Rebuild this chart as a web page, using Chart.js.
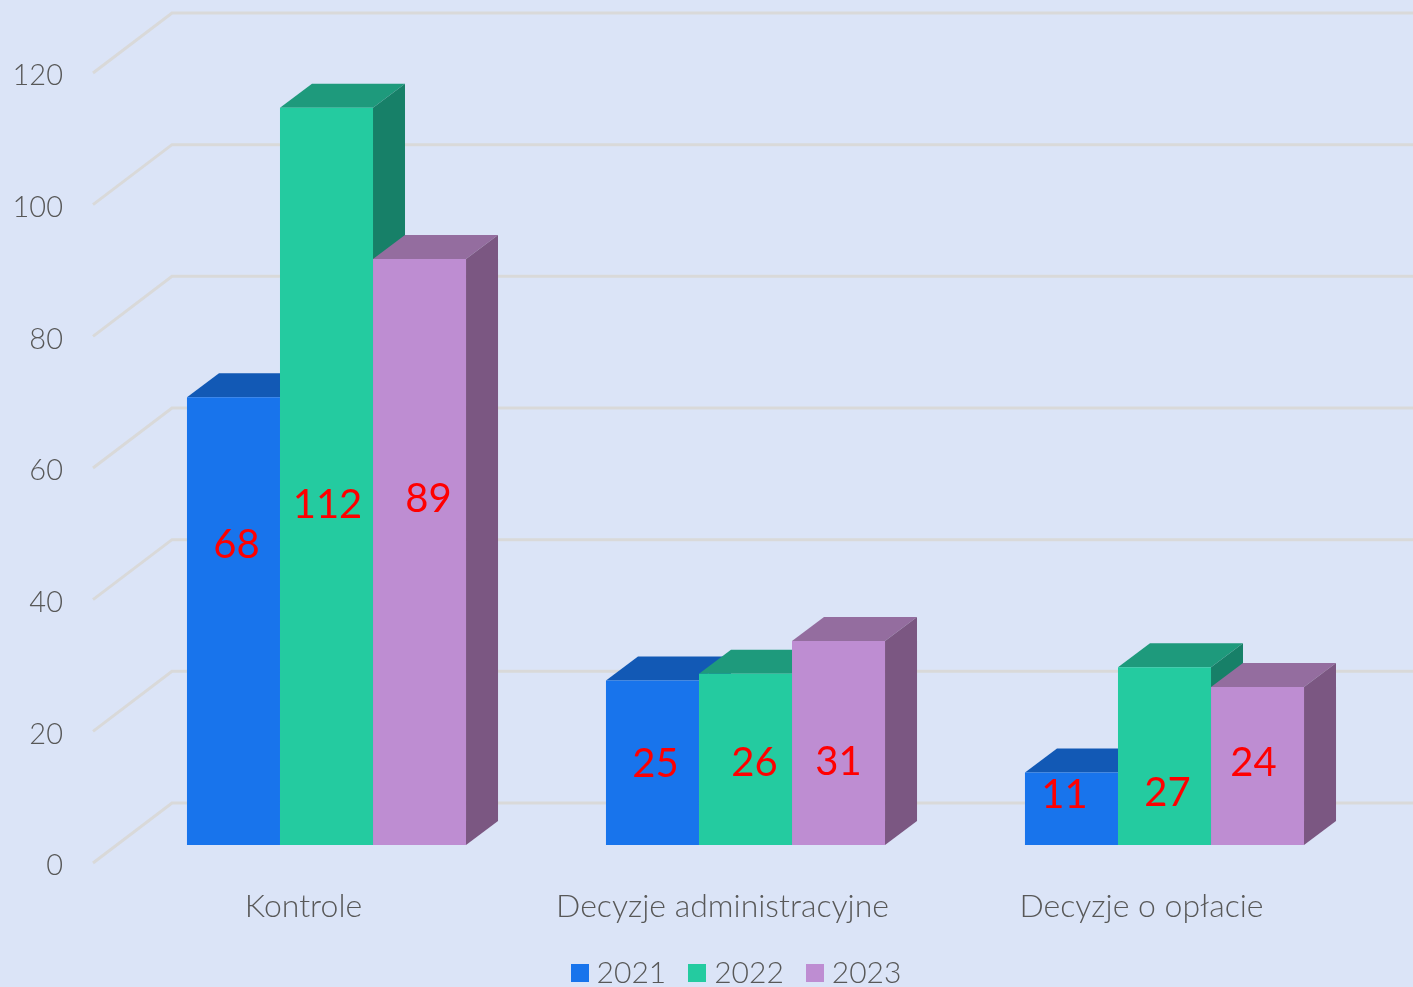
<!DOCTYPE html>
<html><head><meta charset="utf-8">
<style>html,body{margin:0;padding:0;background:#dbe4f7;overflow:hidden}canvas{display:block}</style>
<script src="https://cdn.jsdelivr.net/npm/chart.js@4"></script>
</head><body><canvas id="c" width="1413" height="987"></canvas>
<script>
const categories = ["Kontrole", "Decyzje administracyjne", "Decyzje o opłacie"];
const seriesNames = ["2021", "2022", "2023"];
const values2021 = [68, 25, 11];
const values2022 = [112, 26, 27];
const values2023 = [89, 31, 24];
const frontColors = ["#1874ec", "#24cba0", "#be8dd2"];
const topColors = ["#1259b5", "#1e9a7c", "#946d9f"];
const sideColors = ["#1259b5", "#178068", "#7b5782"];
const labelShifts = [[[3,-76],[1,29],[9,-53]],[[3,1],[9,4],[0,19]],[[-7,-14],[3,37],[-4,-3]]];
const GRID = "#d9d9d9", TXT = "#585858", FONT = "Lato";
const depth = {x:32, y:-24};

function swatch(color){
  const s = document.createElement("canvas");
  s.width = 18; s.height = 18;
  const g = s.getContext("2d");
  g.fillStyle = color; g.fillRect(0,0,18,18);
  return s;
}

const threeD = {
  id:"threeD",
  afterLayout(ch){ const l = ch.legend; l.left += 52.5; l.right += 52.5; l.top -= 19; l.bottom -= 19; },
  beforeDatasetsDraw(ch){
    const c = ch.ctx, y = ch.scales.y;
    c.save();
    c.strokeStyle = GRID; c.lineWidth = 3;
    y.ticks.forEach(t=>{
      const p = y.getPixelForValue(t.value);
      c.beginPath();
      c.moveTo(93, p+18); c.lineTo(172, p-42); c.lineTo(1413, p-42);
      c.stroke();
    });
    for(let i=0;i<categories.length;i++){
      ch.data.datasets.forEach((d,di)=>{
        const b = ch.getDatasetMeta(di).data[i];
        const l=b.x-b.width/2, r=b.x+b.width/2, t=b.y, bt=b.base;
        c.fillStyle = topColors[di];
        c.beginPath(); c.moveTo(l,t); c.lineTo(l+depth.x,t+depth.y); c.lineTo(r+depth.x,t+depth.y); c.lineTo(r,t); c.closePath(); c.fill();
        c.fillStyle = sideColors[di];
        c.beginPath(); c.moveTo(r,t); c.lineTo(r+depth.x,t+depth.y); c.lineTo(r+depth.x,bt+depth.y); c.lineTo(r,bt); c.closePath(); c.fill();
      });
    }
    c.restore();
  },
  afterDatasetsDraw(ch){
    const c = ch.ctx;
    c.save();
    c.fillStyle = "#ff0000"; c.font = "40px "+FONT; c.textAlign="center"; c.textBaseline="middle";
    ch.data.datasets.forEach((d,di)=>{
      ch.getDatasetMeta(di).data.forEach((b,i)=>{
        const s = labelShifts[i][di];
        c.fillText(String(d.data[i]), b.x+s[0], (b.y+b.base)/2+s[1]);
      });
    });
    c.restore();
  }
};

new Chart(document.getElementById("c"),{
  type:"bar",
  data:{labels:categories,datasets:[values2021,values2022,values2023].map((v,i)=>({label:seriesNames[i],data:v,backgroundColor:frontColors[i],borderWidth:0,categoryPercentage:0.666,barPercentage:1}))},
  plugins:[threeD],
  options:{
    responsive:false, animation:false, devicePixelRatio:1,
    layout:{padding:{top:55,right:39,left:0,bottom:-30}},
    plugins:{
      tooltip:{enabled:false},
      legend:{position:"bottom",labels:{
        usePointStyle:true,pointStyleWidth:4,padding:29,color:TXT,font:{family:FONT,size:30,weight:"300"},
        generateLabels(ch){ return seriesNames.map((n,i)=>({text:n,datasetIndex:i,pointStyle:swatch(frontColors[i]),fillStyle:frontColors[i],strokeStyle:frontColors[i],lineWidth:0,fontColor:TXT})); }
      }}
    },
    scales:{
      x:{grid:{display:false},border:{display:false},
         afterFit(s){s.height=103;s.paddingLeft=0;s.paddingRight=0},
         ticks:{color:TXT,labelOffset:-23,padding:34,maxRotation:0,autoSkip:false,font:{family:FONT,size:32,weight:"300"}}},
      y:{min:0,max:120,grid:{display:false},border:{display:false},
         afterFit(s){s.width=117;s.paddingTop=0;s.paddingBottom=0},
         ticks:{stepSize:20,color:TXT,labelOffset:21,padding:46,font:{family:FONT,size:29,weight:"300"}}}
    }
  }
});
</script></body></html>
